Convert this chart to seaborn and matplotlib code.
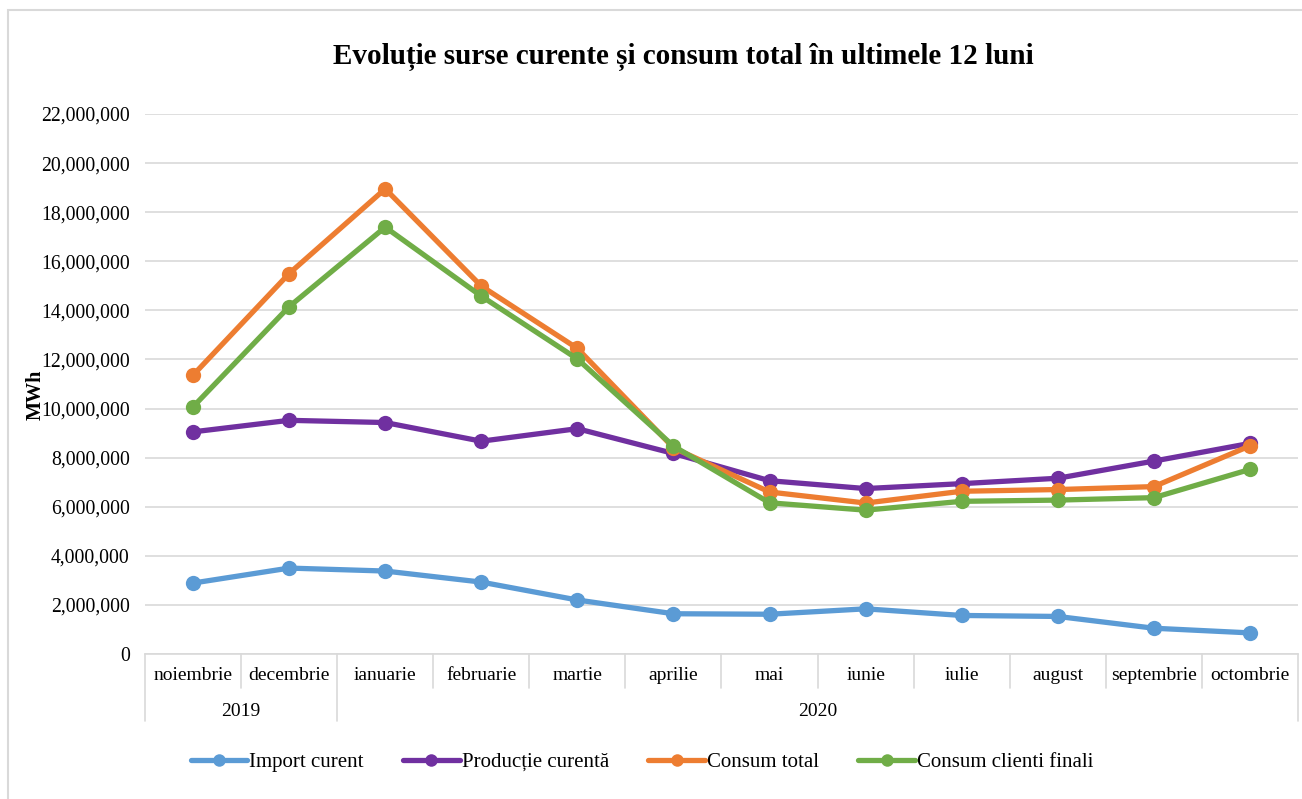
import matplotlib
matplotlib.use("Agg")
import matplotlib.pyplot as plt
import matplotlib.transforms as mtransforms
from matplotlib.patches import Rectangle
from matplotlib.lines import Line2D
import seaborn as sns
import pandas as pd

months = ["noiembrie", "decembrie", "ianuarie", "februarie", "martie", "aprilie",
          "mai", "iunie", "iulie", "august", "septembrie", "octombrie"]
years = ["2019", "2020"]
year_spans = [(0, 2), (2, 12)]

import_curent = [2890000, 3500000, 3380000, 2930000, 2200000, 1640000,
                 1620000, 1840000, 1570000, 1530000, 1050000, 860000]
productie_curenta = [9050000, 9520000, 9430000, 8670000, 9180000, 8170000,
                     7060000, 6740000, 6940000, 7160000, 7860000, 8580000]
consum_total = [11360000, 15500000, 18950000, 14990000, 12450000, 8400000,
                6600000, 6150000, 6630000, 6700000, 6820000, 8480000]
consum_clienti = [10070000, 14150000, 17390000, 14580000, 12020000, 8470000,
                  6160000, 5860000, 6220000, 6270000, 6370000, 7520000]

series_names = ["Import curent", "Producție curentă", "Consum total", "Consum clienti finali"]
series_values = [import_curent, productie_curenta, consum_total, consum_clienti]
colors = ["#5B9BD5", "#7030A0", "#ED7D31", "#70AD47"]

rows = []
for name, vals in zip(series_names, series_values):
    for m, v in zip(months, vals):
        rows.append({"Luna": m, "Valoare": v, "Serie": name})
df = pd.DataFrame(rows)

sns.set_theme(style="white")
plt.rcParams["font.family"] = ["Liberation Serif", "DejaVu Serif"]
plt.rcParams["text.color"] = "black"
plt.rcParams["axes.labelcolor"] = "black"
plt.rcParams["ytick.color"] = "black"

W, H = 1302, 799
fig = plt.figure(figsize=(W / 100, H / 100), dpi=100)
ax = fig.add_axes([145 / W, 1 - 654 / H, (1298 - 145) / W, (654 - 114) / H])

sns.lineplot(data=df, x="Luna", y="Valoare", hue="Serie", hue_order=series_names,
             palette=colors, marker="o", markersize=11, markeredgewidth=0,
             linewidth=3.8, sort=False, ax=ax, legend=False)

ax.set_xlim(-0.5, 11.5)
ax.set_ylim(0, 22000000)
ax.set_yticks(range(0, 22000001, 2000000))
ax.set_yticklabels([f"{v:,}" for v in range(0, 22000001, 2000000)], fontsize=14.2)
ax.tick_params(axis="y", length=0, pad=11, labelcolor="black")
ax.grid(axis="y", color="#D9D9D9", linewidth=1.2)
ax.grid(axis="x", visible=False)
for s in ["top", "right", "left"]:
    ax.spines[s].set_visible(False)
ax.spines["bottom"].set_color("#D9D9D9")
ax.spines["bottom"].set_linewidth(1.2)
ax.set_xticks([])
ax.set_xlabel("")
ax.set_ylabel("MWh", fontsize=14.5, fontweight="bold", color="black")
ax.yaxis.set_label_coords((46 - 145) / (1298 - 145), 0.48)

# multi-level category axis
trans = mtransforms.blended_transform_factory(ax.transData, ax.transAxes)
px = 1.0 / (654 - 114)
for i, m in enumerate(months):
    ax.text(i, -22 * px, m, transform=trans, ha="center", va="center", fontsize=14, color="black")
for b in [x - 0.5 for x in range(13)]:
    full = b in (-0.5, 1.5, 11.5)
    ax.add_line(Line2D([b, b], [0, -(67 if full else 34) * px], transform=trans,
                       color="#D9D9D9", linewidth=1.2, clip_on=False))
for y, (a, b) in zip(years, year_spans):
    ax.text((a + b - 1) / 2, -57 * px, y, transform=trans, ha="center", va="center",
            fontsize=14, color="black")

fig.text(683 / W, 1 - 57 / H, "Evoluție surse curente și consum total în ultimele 12 luni",
         ha="center", va="center", fontsize=21, fontweight="bold", color="black")

handles = [Line2D([0], [0], color=c, linewidth=3.8, marker="o", markersize=9, markeredgewidth=0)
           for c in colors]
fig.legend(handles, series_names, loc="center", bbox_to_anchor=(642 / W, 1 - 762 / H),
           ncol=4, frameon=False, fontsize=15, handlelength=2.7, handletextpad=0.1,
           columnspacing=1.9)

fig.patches.append(Rectangle((8 / W, -0.05), 1.1, 1 - 10 / H + 0.05, transform=fig.transFigure,
                             fill=False, edgecolor="#D9D9D9", linewidth=1.5))

fig.savefig("out.png", dpi=100, facecolor="white")
